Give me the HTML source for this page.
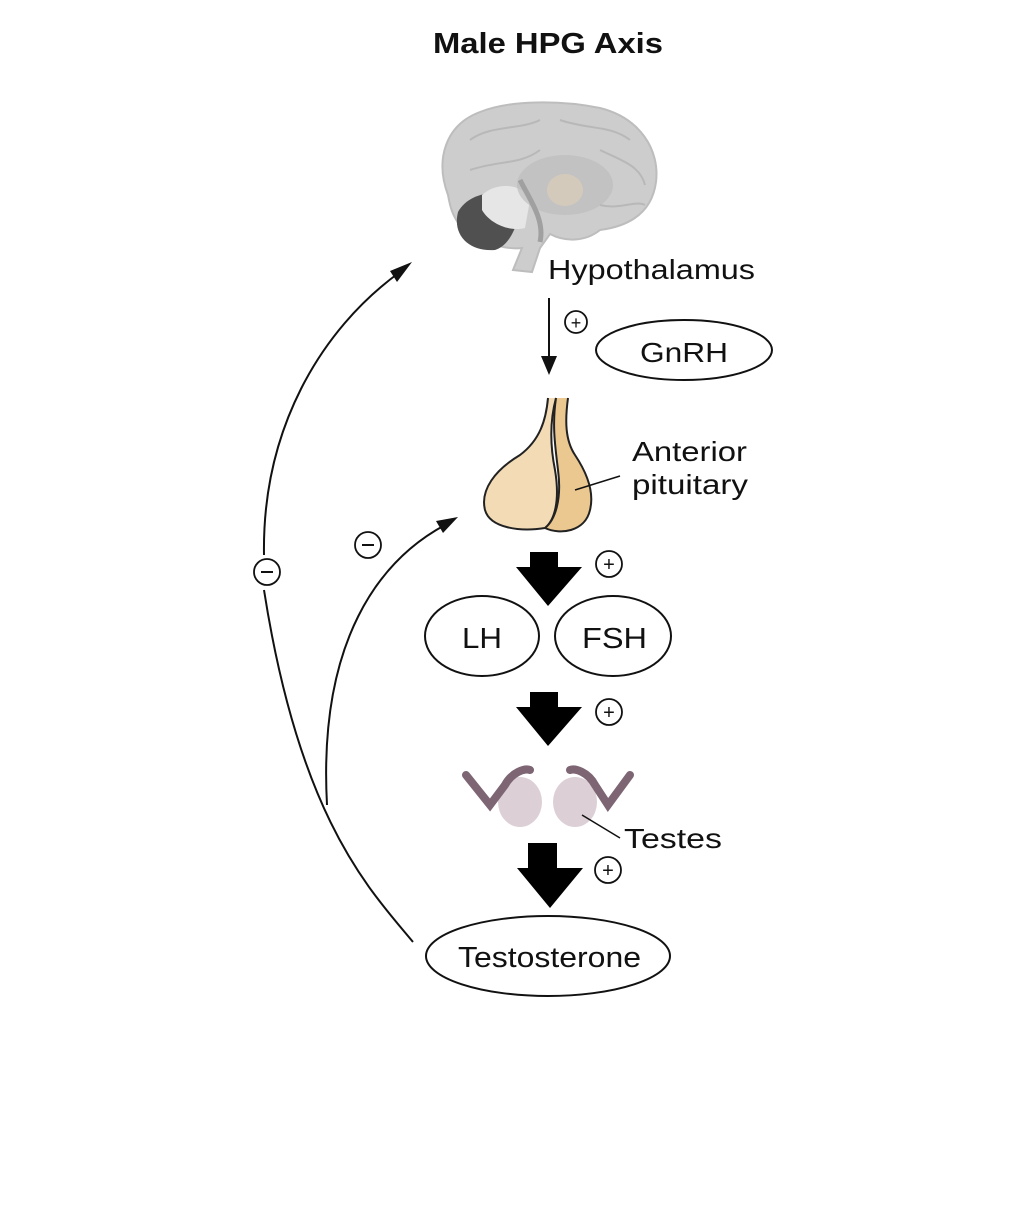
<!DOCTYPE html>
<html><head><meta charset="utf-8"><style>html,body{margin:0;padding:0;background:#fff}</style></head>
<body>
<svg width="1028" height="1200" viewBox="0 0 1028 1200" xmlns="http://www.w3.org/2000/svg" font-family="Liberation Sans, Arial, sans-serif">
<rect width="1028" height="1200" fill="#fff"/>
<text x="433" y="53" font-size="29" font-weight="bold" textLength="230" lengthAdjust="spacingAndGlyphs" fill="#111">Male HPG Axis</text>

<!-- brain -->
<path d="M448,195 C435,160 445,125 480,112 C510,100 560,100 600,108 C640,118 660,150 656,182 C652,212 630,226 600,230 C585,242 565,242 550,234 L540,248 L532,272 L513,270 L522,248 C505,250 480,242 462,228 C452,216 450,206 448,195 Z" fill="#cdcdcd" stroke="#bdbdbd" stroke-width="2"/>
<path d="M458,212 C470,190 505,188 520,202 C520,222 510,246 495,250 C470,252 452,236 458,212 Z" fill="#505050"/>
<path d="M482,195 C498,180 525,185 530,200 L525,228 C510,232 490,224 482,210 Z" fill="#e6e6e6"/>
<ellipse cx="565" cy="185" rx="48" ry="30" fill="#bdbdbd" opacity="0.7"/>
<ellipse cx="565" cy="190" rx="18" ry="16" fill="#d3cabb"/>
<path d="M520,180 C530,200 545,220 540,242" stroke="#a0a0a0" stroke-width="5" fill="none"/>
<g fill="none" stroke="#b8b8b8" stroke-width="2">
<path d="M470,140 C490,125 520,130 540,120"/><path d="M560,120 C590,130 610,125 630,140"/><path d="M470,170 C500,160 520,165 540,150"/><path d="M600,150 C620,160 640,165 645,185"/><path d="M600,205 C620,210 635,200 645,205"/>
</g>

<text x="548" y="279" font-size="28" textLength="207" lengthAdjust="spacingAndGlyphs" fill="#111">Hypothalamus</text>
<line x1="549" y1="298" x2="549" y2="360" stroke="#111" stroke-width="2"/>
<polygon points="541,356 557,356 549,375" fill="#111"/>
<circle cx="576" cy="322" r="11" fill="none" stroke="#111" stroke-width="1.8"/>
<text x="576" y="329" text-anchor="middle" font-size="18" fill="#111">+</text>
<ellipse cx="684" cy="350" rx="88" ry="30" fill="none" stroke="#111" stroke-width="2"/>
<text x="640" y="362" font-size="28" textLength="88" lengthAdjust="spacingAndGlyphs" fill="#111">GnRH</text>

<!-- pituitary -->
<path d="M548,398 C546,420 540,440 520,455 C495,470 480,490 485,510 C490,528 520,532 545,528 C555,520 560,500 555,470 C550,445 550,420 556,398" fill="#f3dcb5" stroke="#222" stroke-width="2"/>
<path d="M556,398 C552,425 555,445 558,470 C562,500 555,520 545,528 C560,535 585,532 590,510 C595,490 585,470 575,455 C565,440 565,420 568,398" fill="#ebc88f" stroke="#222" stroke-width="2"/>
<line x1="575" y1="490" x2="620" y2="476" stroke="#111" stroke-width="1.5"/>
<text x="632" y="461" font-size="28" textLength="115" lengthAdjust="spacingAndGlyphs" fill="#111">Anterior</text>
<text x="632" y="494" font-size="28" textLength="116" lengthAdjust="spacingAndGlyphs" fill="#111">pituitary</text>

<!-- big arrows -->
<polygon points="530,552 558,552 558,567 582,567 548,606 516,567 530,567" fill="#000"/>
<circle cx="609" cy="564" r="13" fill="none" stroke="#111" stroke-width="1.8"/>
<text x="609" y="571" text-anchor="middle" font-size="20" fill="#111">+</text>

<ellipse cx="482" cy="636" rx="57" ry="40" fill="none" stroke="#111" stroke-width="2"/>
<text x="462" y="648" font-size="29" textLength="40" lengthAdjust="spacingAndGlyphs" fill="#111">LH</text>
<ellipse cx="613" cy="636" rx="58" ry="40" fill="none" stroke="#111" stroke-width="2"/>
<text x="582" y="648" font-size="29" textLength="65" lengthAdjust="spacingAndGlyphs" fill="#111">FSH</text>

<polygon points="530,692 558,692 558,707 582,707 548,746 516,707 530,707" fill="#000"/>
<circle cx="609" cy="712" r="13" fill="none" stroke="#111" stroke-width="1.8"/>
<text x="609" y="719" text-anchor="middle" font-size="20" fill="#111">+</text>

<!-- testes -->
<ellipse cx="520" cy="802" rx="22" ry="25" fill="#dccfd6"/>
<ellipse cx="575" cy="802" rx="22" ry="25" fill="#dccfd6"/>
<path d="M466,775 L490,805 L505,785 C512,772 525,768 530,770" fill="none" stroke="#7d6573" stroke-width="8" stroke-linecap="round"/>
<path d="M630,775 L608,805 L595,785 C588,772 575,768 570,770" fill="none" stroke="#7d6573" stroke-width="8" stroke-linecap="round"/>
<line x1="582" y1="815" x2="620" y2="838" stroke="#111" stroke-width="1.5"/>
<text x="624" y="848" font-size="28" textLength="98" lengthAdjust="spacingAndGlyphs" fill="#111">Testes</text>

<polygon points="528,843 557,843 557,868 583,868 550,908 517,868 528,868" fill="#000"/>
<circle cx="608" cy="870" r="13" fill="none" stroke="#111" stroke-width="1.8"/>
<text x="608" y="877" text-anchor="middle" font-size="20" fill="#111">+</text>

<ellipse cx="548" cy="956" rx="122" ry="40" fill="none" stroke="#111" stroke-width="2"/>
<text x="458" y="967" font-size="29" textLength="183" lengthAdjust="spacingAndGlyphs" fill="#111">Testosterone</text>

<!-- feedback curves -->
<g fill="none" stroke="#111" stroke-width="2">
<path d="M413,942 C370,890 300,820 264,590"/>
<path d="M264,555 C262,430 320,330 400,272"/>
<path d="M327,805 C318,640 380,560 445,525"/>
</g>
<polygon points="412,262 397,282 390,271" fill="#111"/>
<polygon points="458,517 443,533 436,521" fill="#111"/>
<circle cx="267" cy="572" r="13" fill="none" stroke="#111" stroke-width="1.8"/>
<line x1="261" y1="572" x2="273" y2="572" stroke="#111" stroke-width="2"/>
<circle cx="368" cy="545" r="13" fill="none" stroke="#111" stroke-width="1.8"/>
<line x1="362" y1="545" x2="374" y2="545" stroke="#111" stroke-width="2"/>
</svg>
</body></html>
